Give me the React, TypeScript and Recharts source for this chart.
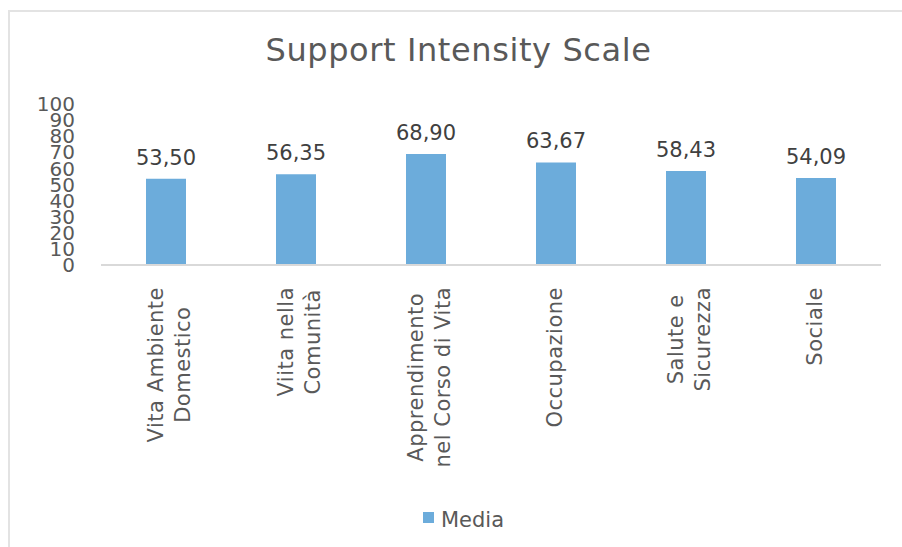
import React from "react";
import { BarChart, Bar, XAxis, YAxis, LabelList } from "recharts";

const categories = [
  "Vita Ambiente\nDomestico",
  "Viita nella\nComunità",
  "Apprendimento\nnel Corso di Vita",
  "Occupazione",
  "Salute e\nSicurezza",
  "Sociale",
];
const values = [53.5, 56.35, 68.9, 63.67, 58.43, 54.09];
const yTicks = [0, 10, 20, 30, 40, 50, 60, 70, 80, 90, 100];
const seriesName = "Media";
const title = "Support Intensity Scale";

const data = categories.map((c, i) => ({ name: c, value: values[i] }));

const FONT = "'DejaVu Sans', Verdana, sans-serif";
const BAR_COLOR = "#6cacdb";
const LS = 0.5;

let ctx: CanvasRenderingContext2D | null = null;
function measure(t: string): number {
  if (!ctx) {
    const c = document.createElement("canvas");
    ctx = c.getContext("2d");
  }
  if (!ctx) return t.length * 12;
  ctx.font = "21px 'DejaVu Sans'";
  return ctx.measureText(t).width + t.length * LS;
}

const XTick = (props: any) => {
  const { x, y, payload } = props;
  const lines: string[] = String(payload.value).split("\n");
  const n = lines.length;
  const maxW = Math.max(...lines.map(measure));
  return (
    <g transform={`translate(${x},${y + 22}) rotate(-90)`}>
      {lines.map((l, i) => (
        <text
          key={i}
          x={-maxW / 2}
          y={6 + (i - (n - 1) / 2) * 27 + (n > 1 ? 4.5 : 0)}
          textAnchor="middle"
          fontFamily={FONT}
          fontSize={21}
          letterSpacing={LS}
          fill="#595959"
        >
          {l}
        </text>
      ))}
    </g>
  );
};

const fmt = (v: any) => Number(v).toFixed(2).replace(".", ",");

export default function App() {
  return (
    <div
      style={{
        position: "absolute",
        left: 0,
        top: 0,
        width: 902,
        height: 547,
        background: "#fff",
        overflow: "hidden",
      }}
    >
      <div
        style={{
          position: "absolute",
          left: 8,
          top: 10,
          width: 894,
          height: 537,
          borderTop: "2px solid #e3e3e3",
          borderLeft: "2px solid #e3e3e3",
          boxSizing: "border-box",
        }}
      />
      <div style={{ position: "absolute", left: 0, top: 0 }}>
        <BarChart
          width={902}
          height={547}
          data={data}
          margin={{ top: 104, right: 21, bottom: 0, left: 0 }}
          barSize={40}
        >
          <XAxis
            dataKey="name"
            height={282}
            interval={0}
            tickLine={false}
            tickSize={0}
            tickMargin={0}
            axisLine={{ stroke: "#d9d9d9", strokeWidth: 2 }}
            tick={<XTick />}
          />
          <YAxis
            type="number"
            domain={[0, 100]}
            ticks={yTicks}
            interval={0}
            width={101}
            axisLine={false}
            tickLine={false}
            tickSize={0}
            tickMargin={26}
            tick={{ fontSize: 20, fill: "#595959", fontFamily: FONT }}
          />
          <Bar
            dataKey="value"
            name={seriesName}
            fill={BAR_COLOR}
            isAnimationActive={false}
          >
            <LabelList
              dataKey="value"
              position="top"
              offset={14}
              formatter={fmt}
              style={{ fontSize: 21, fill: "#404040", fontFamily: FONT }}
            />
          </Bar>
        </BarChart>
      </div>
      <svg
        width={902}
        height={547}
        style={{ position: "absolute", left: 0, top: 0, pointerEvents: "none" }}
      >
        <text
          x={458.5}
          y={61}
          textAnchor="middle"
          fontFamily={FONT}
          fontSize={32}
          letterSpacing={0.6}
          fill="#595959"
        >
          {title}
        </text>
        <rect x={423} y={512} width={11} height={11} fill={BAR_COLOR} />
        <text x={441} y={527} fontFamily={FONT} fontSize={21} fill="#595959">
          {seriesName}
        </text>
      </svg>
    </div>
  );
}
